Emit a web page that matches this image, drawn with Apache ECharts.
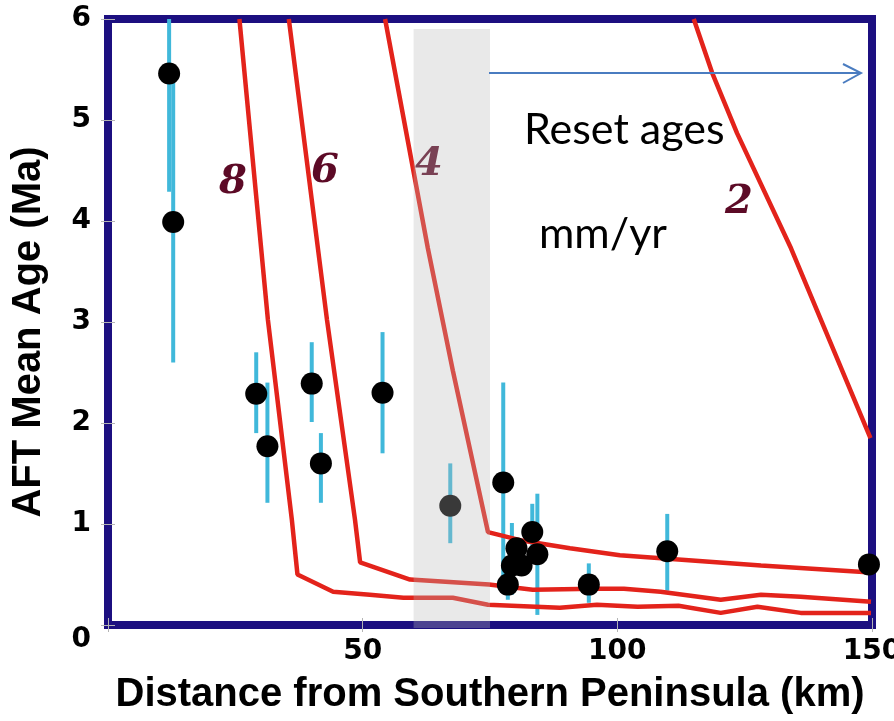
<!DOCTYPE html>
<html>
<head>
<meta charset="utf-8">
<script src="https://cdn.jsdelivr.net/npm/echarts@6/dist/echarts.min.js"></script>
<style>
  html, body { margin: 0; padding: 0; background: #fff; overflow: hidden; }
  #chart { width: 894px; height: 721px; }
</style>
</head>
<body>
<div id="chart"></div>
<script>
// AFT mean ages (Ma) against distance from the southern peninsula (km)
const ptX  = [12.0, 12.8, 29.1, 31.3, 40.0, 41.8, 53.9, 67.2, 77.6, 78.5, 79.3, 80.2, 81.2, 83.3, 84.3, 94.4, 109.8, 149.4];
const ptY  = [5.46, 3.99, 2.29, 1.77, 2.39, 1.60, 2.30, 1.18, 1.41, 0.40, 0.59, 0.76, 0.59, 0.92, 0.70, 0.40, 0.73, 0.60];
// error bar ranges (null = no bar visible)
const errLo = [4.29, 2.60, 1.90, 1.21, 2.01, 1.21, 1.70, 0.81, 0.42, 0.25, 0.30, null, null, 0.64, 0.10, 0.22, 0.34, null];
const errHi = [6.63, 5.40, 2.70, 2.40, 2.80, 1.90, 2.90, 1.60, 2.40, 0.55, 1.01, null, null, 1.20, 1.30, 0.61, 1.10, null];

// model age curves for exhumation rates of 8, 6, 4 and 2 mm/yr
const curve8X = [25.8, 31.4, 36.1, 37.2, 44.2, 51.4, 58.0, 67.7, 74.6, 88.7, 96.0, 104.0, 112.0, 120.3, 127.5, 136.0, 149.8];
const curve8Y = [6.00, 3.02, 1.04, 0.50, 0.33, 0.30, 0.27, 0.27, 0.20, 0.17, 0.20, 0.18, 0.19, 0.12, 0.18, 0.12, 0.12];
const curve6X = [35.5, 43.0, 48.5, 49.5, 59.3, 74.8, 83.4, 95.4, 101.3, 108.5, 120.3, 128.2, 136.0, 149.8];
const curve6Y = [6.00, 3.02, 1.04, 0.62, 0.45, 0.40, 0.35, 0.36, 0.36, 0.33, 0.25, 0.30, 0.28, 0.23];
const curve4X = [54.4, 62.8, 67.7, 74.6, 80.9, 90.7, 100.5, 108.6, 128.2, 149.8];
const curve4Y = [6.00, 3.73, 2.52, 0.92, 0.84, 0.76, 0.69, 0.66, 0.59, 0.52];
const curve2X = [115.0, 118.6, 123.5, 134.1, 149.7];
const curve2Y = [6.00, 5.47, 4.87, 3.73, 1.85];

// reset-age zone: distance range and age range it spans
const resetBandX = [60, 75];
const resetBandY = [-0.03, 5.9];
const xTicks = [0, 150, 50];   // min, max, interval
const yTicks = [0, 6, 1];

const NAVY = '#1c0f80';
const RED = '#e3231b';
const MAROON = '#5c0a26';

const zip = (xs, ys) => xs.map((x, i) => [x, ys[i]]);

const chart = echarts.init(document.getElementById('chart'), null, { renderer: 'canvas' });

const tickLabel = {
  fontFamily: 'DejaVu Sans', fontWeight: 'bold', fontSize: 28, color: '#000'
};
const axisTitle = {
  fontFamily: 'Liberation Sans', fontWeight: 'bold', fontSize: 40, color: '#000'
};
const frameLine = { show: true, lineStyle: { color: NAVY, width: 8, cap: 'square' } };
const innerTick = { show: true, inside: true, length: 7, lineStyle: { color: '#b4b4b4', width: 1 } };

function curveSeries(name, xs, ys) {
  return {
    name, type: 'line', data: zip(xs, ys), symbol: 'none', z: 3,
    lineStyle: { color: RED, width: 4.5 }, clip: true, silent: true
  };
}

const option = {
  animation: false,
  backgroundColor: '#fff',
  grid: {
    left: 108, right: 22, top: 19, bottom: 96,
    outerBoundsMode: 'none', containLabel: false,
    show: true, borderColor: NAVY, borderWidth: 8, backgroundColor: '#fff'
  },
  xAxis: [
    {
      type: 'value', position: 'bottom', min: xTicks[0], max: xTicks[1], interval: xTicks[2], z: 5,
      axisLine: frameLine, axisTick: innerTick, splitLine: { show: false },
      axisLabel: Object.assign({ margin: 13, formatter: v => (v === 0 ? '' : String(v)) }, tickLabel),
      name: 'Distance from Southern Peninsula (km)', nameLocation: 'middle', nameGap: 50,
      nameTextStyle: axisTitle
    },
    {
      type: 'value', position: 'top', min: xTicks[0], max: xTicks[1], interval: xTicks[2], z: 5,
      axisLine: frameLine, axisTick: innerTick, splitLine: { show: false }, axisLabel: { show: false }
    }
  ],
  yAxis: [
    {
      type: 'value', position: 'left', min: yTicks[0], max: yTicks[1], interval: yTicks[2], z: 5,
      axisLine: frameLine, axisTick: innerTick, splitLine: { show: false },
      axisLabel: Object.assign({
        margin: 17,
        formatter: v => (v === 0 ? '{z|0}' : String(v)),
        rich: { z: Object.assign({ padding: [30, 0, 0, 0] }, tickLabel) }
      }, tickLabel),
      name: 'AFT Mean Age (Ma)', nameLocation: 'middle', nameGap: 59,
      nameTextStyle: Object.assign({ padding: [0, 20, 0, 0] }, axisTitle)
    },
    {
      type: 'value', position: 'right', min: yTicks[0], max: yTicks[1], interval: yTicks[2], z: 5,
      axisLine: frameLine, axisTick: innerTick, splitLine: { show: false }, axisLabel: { show: false }
    }
  ],
  series: [
    {
      name: 'error', type: 'custom', z: 2, clip: true, silent: true,
      data: ptX.map((x, i) => [x, errLo[i], errHi[i]]),
      renderItem: function (params, api) {
        const lo = api.value(1), hi = api.value(2);
        if (lo == null || hi == null || isNaN(lo) || isNaN(hi)) return null;
        const a = api.coord([api.value(0), lo]);
        const b = api.coord([api.value(0), hi]);
        return {
          type: 'line',
          shape: { x1: a[0], y1: a[1], x2: b[0], y2: b[1] },
          style: { stroke: '#40b8da', lineWidth: 4 }
        };
      }
    },
    curveSeries('8 mm/yr', curve8X, curve8Y),
    curveSeries('6 mm/yr', curve6X, curve6Y),
    curveSeries('4 mm/yr', curve4X, curve4Y),
    curveSeries('2 mm/yr', curve2X, curve2Y),
    {
      name: 'AFT age', type: 'scatter', z: 4, silent: true,
      data: zip(ptX, ptY), symbol: 'circle', symbolSize: 22,
      itemStyle: { color: '#000', opacity: 1 }
    },
    {
      // translucent reset zone laid over everything in the plot
      name: 'reset zone', type: 'custom', z: 10, silent: true, clip: false,
      data: [[resetBandX[0], resetBandY[0], resetBandX[1], resetBandY[1]]],
      renderItem: function (params, api) {
        const p0 = api.coord([api.value(0), api.value(3)]);
        const p1 = api.coord([api.value(2), api.value(1)]);
        return {
          type: 'rect',
          shape: { x: p0[0], y: p0[1], width: p1[0] - p0[0], height: p1[1] - p0[1] },
          style: { fill: 'rgba(185,185,185,0.31)' }
        };
      }
    }
  ],
  graphic: [
    { type: 'text', x: 233, y: 183, z: 20, style: { text: '8', fill: MAROON, font: 'italic bold 40px "DejaVu Serif"', align: 'center', verticalAlign: 'middle' } },
    { type: 'text', x: 325, y: 172, z: 20, style: { text: '6', fill: MAROON, font: 'italic bold 40px "DejaVu Serif"', align: 'center', verticalAlign: 'middle' } },
    { type: 'text', x: 429, y: 165, z: 20, style: { text: '4', fill: '#794154', font: 'italic bold 40px "DejaVu Serif"', align: 'center', verticalAlign: 'middle' } },
    { type: 'text', x: 739, y: 203, z: 20, style: { text: '2', fill: MAROON, font: 'italic bold 40px "DejaVu Serif"', align: 'center', verticalAlign: 'middle' } },
    { type: 'text', x: 524, y: 130, z: 20, style: { text: 'Reset ages', fill: '#000', font: '43px Lato', align: 'left', verticalAlign: 'middle' } },
    { type: 'text', x: 539, y: 234, z: 20, style: { text: 'mm/yr', fill: '#000', font: '43px Lato', align: 'left', verticalAlign: 'middle' } },
    { type: 'line', z: 20, shape: { x1: 489, y1: 73, x2: 861, y2: 73 }, style: { stroke: '#4a7cc0', lineWidth: 2 } },
    { type: 'polyline', z: 20, shape: { points: [[843, 64], [861, 73], [843, 83]] }, style: { stroke: '#4a7cc0', lineWidth: 2, fill: null } }
  ]
};

chart.setOption(option);
</script>
</body>
</html>
